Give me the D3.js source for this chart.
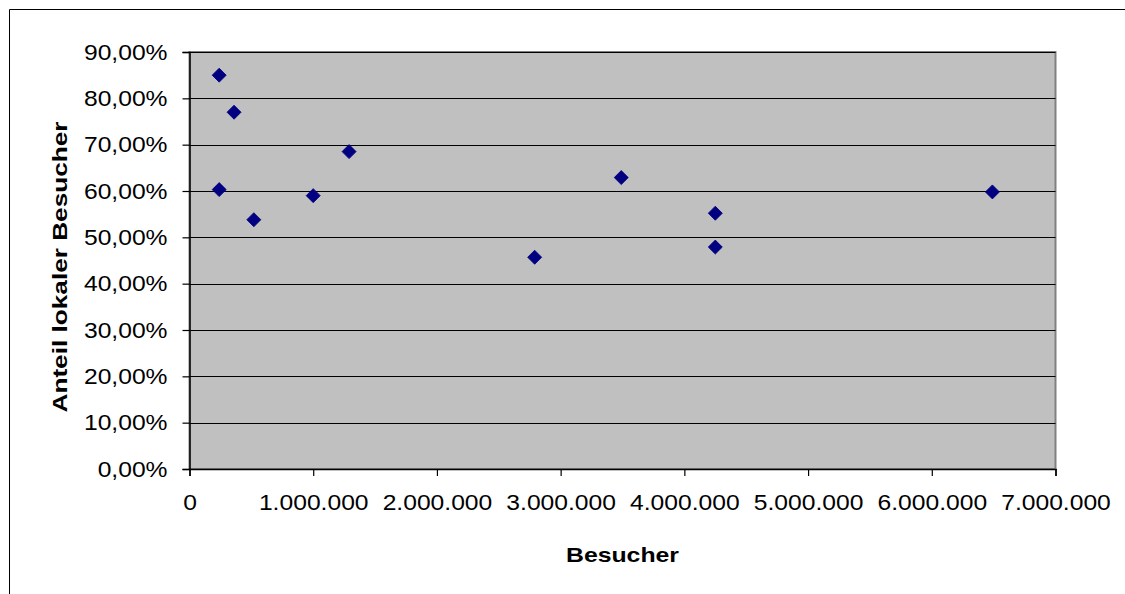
<!DOCTYPE html>
<html>
<head>
<meta charset="utf-8">
<script src="https://cdn.jsdelivr.net/npm/d3@7"></script>
<style>
  html, body { margin: 0; padding: 0; background: #fff; overflow: hidden; }
  svg { display: block; }
  text { font-family: "Liberation Sans", Arial, sans-serif; fill: #000; }
</style>
</head>
<body>
<svg id="chart" width="1125" height="594"></svg>
<script>
// Besucher (visitors) and share of local visitors per venue
const besucher = [240000, 360000, 240000, 520000, 1000000, 1290000, 2790000, 3490000, 4250000, 4250000, 6490000];
const anteilLokal = [0.85, 0.77, 0.603, 0.538, 0.59, 0.685, 0.457, 0.629, 0.552, 0.479, 0.598];

const xTicks = [0, 1000000, 2000000, 3000000, 4000000, 5000000, 6000000, 7000000];
const yTicks = [0, 0.1, 0.2, 0.3, 0.4, 0.5, 0.6, 0.7, 0.8, 0.9];

const xTitle = "Besucher";
const yTitle = "Anteil lokaler Besucher";

(function () {
  const svg = d3.select("#chart");
  const plotL = 189.5, plotR = 1055.5, plotT = 52, plotB = 469;

  const x = d3.scaleLinear().domain([0, 7000000]).range([plotL, plotR]);
  const y = d3.scaleLinear().domain([0, 0.9]).range([plotB, plotT]);

  // German number formats: thousands with ".", decimals with ","
  const de = d3.formatLocale({ decimal: ",", thousands: ".", grouping: [3], currency: ["", " €"] });
  const fmtX = de.format(",d");
  const fmtY = v => de.format(".2f")(v * 100) + "%";

  // outer chart frame (left and top edges; the rest runs past the page)
  svg.append("path")
    .attr("d", "M9.5,600 V9.5 H1130")
    .attr("fill", "none").attr("stroke", "#000").attr("stroke-width", 1);

  // plot area
  svg.append("rect")
    .attr("x", plotL).attr("y", plotT)
    .attr("width", plotR - plotL).attr("height", plotB - plotT)
    .attr("fill", "#c0c0c0").attr("stroke", "#808080").attr("stroke-width", 2);

  // horizontal gridlines
  svg.append("g").selectAll("line")
    .data(yTicks.filter(t => t > 0))
    .join("line")
    .attr("x1", plotL).attr("x2", plotR)
    .attr("y1", d => Math.round(y(d)) + 0.5).attr("y2", d => Math.round(y(d)) + 0.5)
    .attr("stroke", "#000").attr("stroke-width", 1.2);

  const stretch = function () {
    const w = this.getComputedTextLength();
    d3.select(this).attr("textLength", w * 1.12).attr("lengthAdjust", "spacingAndGlyphs");
  };

  // y axis
  const yAxis = svg.append("g")
    .attr("transform", `translate(${plotL},0)`)
    .call(d3.axisLeft(y).tickValues(yTicks).tickFormat(fmtY).tickSize(7).tickPadding(14));
  yAxis.select(".domain").attr("stroke", "#000").attr("stroke-width", 1.5);
  yAxis.selectAll(".tick line").attr("stroke", "#000").attr("stroke-width", 1.2);
  yAxis.selectAll(".tick text")
    .attr("font-size", 22)
    .attr("font-family", "Liberation Sans, Arial, sans-serif")
    .attr("fill", "#000")
    .attr("x", -22)
    .each(stretch);

  // x axis
  const xAxis = svg.append("g")
    .attr("transform", `translate(0,${plotB})`)
    .call(d3.axisBottom(x).tickValues(xTicks).tickFormat(fmtX).tickSize(7).tickPadding(14));
  xAxis.select(".domain").attr("stroke", "#000").attr("stroke-width", 1.5);
  xAxis.selectAll(".tick line").attr("stroke", "#000").attr("stroke-width", 1.2);
  xAxis.selectAll(".tick text")
    .attr("font-size", 22)
    .attr("font-family", "Liberation Sans, Arial, sans-serif")
    .attr("fill", "#000")
    .attr("y", 25)
    .each(stretch);

  // axis titles
  svg.append("text")
    .attr("x", (plotL + plotR) / 2).attr("y", 562)
    .attr("text-anchor", "middle")
    .attr("font-size", 21).attr("font-weight", "bold")
    .attr("textLength", 113).attr("lengthAdjust", "spacingAndGlyphs")
    .text(xTitle);

  svg.append("text")
    .attr("transform", "translate(67,267) rotate(-90)")
    .attr("text-anchor", "middle")
    .attr("font-size", 21).attr("font-weight", "bold")
    .attr("textLength", 291).attr("lengthAdjust", "spacingAndGlyphs")
    .text(yTitle);

  // diamond markers
  const diamond = d3.symbol().type(d3.symbolSquare).size(98);
  svg.append("g").selectAll("path")
    .data(besucher.map((b, i) => [b, anteilLokal[i]]))
    .join("path")
    .attr("d", diamond)
    .attr("transform", d => `translate(${x(d[0])},${y(d[1])}) rotate(45)`)
    .attr("fill", "#000080")
    .attr("stroke", "#000080")
    .attr("stroke-width", 0.8)
    .attr("stroke-linejoin", "round");
})();
</script>
</body>
</html>
